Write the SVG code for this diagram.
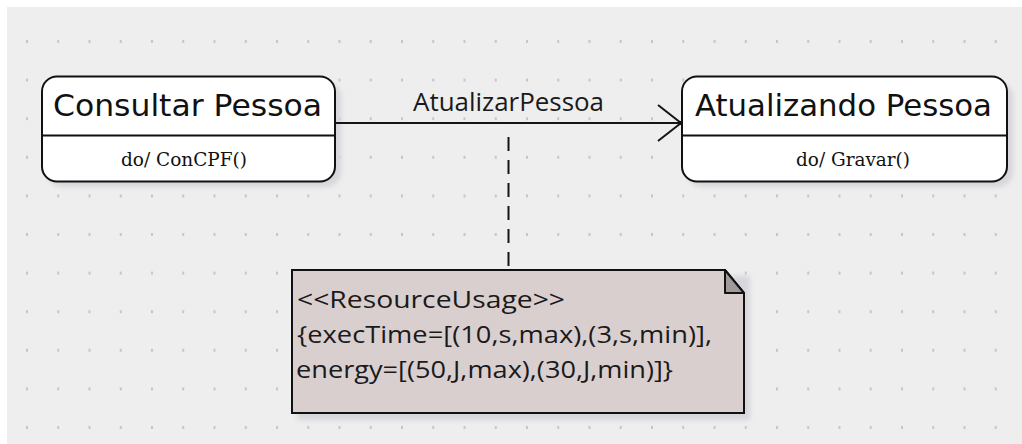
<svg xmlns="http://www.w3.org/2000/svg" width="1022" height="444" viewBox="0 0 1022 444">
  <defs>
    <pattern id="grid" x="26" y="40" width="31.25" height="38.6" patternUnits="userSpaceOnUse">
      <rect x="0" y="0" width="2" height="3" fill="#c6c6c6"/>
    </pattern>
    <filter id="soft" x="-10%" y="-10%" width="130%" height="140%">
      <feGaussianBlur stdDeviation="2.5"/>
    </filter>
    <style>
      .state { fill: #ffffff; stroke: #111111; stroke-width: 2; }
      .shadow { fill: #d6d6dc; filter: url(#soft); }
      .divider { stroke: #111111; stroke-width: 2; }
      .title { font-family: "DejaVu Sans", "Liberation Sans", sans-serif; font-size: 30px; fill: #111111; }
      .action { font-family: "DejaVu Serif", "Liberation Serif", serif; font-size: 19px; fill: #111111; }
      .label { font-family: "Open Sans", "DejaVu Sans", sans-serif; font-size: 26px; fill: #1a1a1a; }
      .notetext { font-family: "Open Sans", "DejaVu Sans", sans-serif; font-size: 23px; fill: #1a1a1a; }
      .edge { stroke: #151515; stroke-width: 2; fill: none; }
    </style>
  </defs>

  <!-- canvas -->
  <rect x="0" y="0" width="1022" height="444" fill="#ffffff"/>
  <rect x="7" y="7" width="1015" height="437" fill="#eeeeee"/>
  <rect x="7" y="7" width="1015" height="437" fill="url(#grid)"/>

  <!-- shadows -->
  <rect class="shadow" x="47" y="82" width="294" height="105" rx="15"/>
  <rect class="shadow" x="687" y="82" width="326" height="105" rx="15"/>
  <rect class="shadow" x="297" y="276" width="453" height="144"/>

  <!-- connectors -->
  <g id="connectors">
    <line class="edge" x1="335" y1="123" x2="681" y2="123"/>
    <polyline class="edge" points="658,105 681,123 658,141"/>
    <rect x="678" y="121" width="4" height="4" fill="#111111"/>
    <line x1="508.5" y1="137" x2="508.5" y2="270" stroke="#151515" stroke-width="2" stroke-dasharray="14 9"/>
    <text class="label" x="413" y="111" textLength="191" lengthAdjust="spacingAndGlyphs">AtualizarPessoa</text>
  </g>

  <!-- state: Consultar Pessoa -->
  <g id="consultar-pessoa">
    <rect class="state" x="42" y="76.5" width="293" height="105" rx="15"/>
    <line class="divider" x1="42" y1="135.5" x2="335" y2="135.5"/>
    <text class="title" x="53" y="116" textLength="269" lengthAdjust="spacingAndGlyphs">Consultar Pessoa</text>
    <text class="action" x="121" y="166" textLength="126" lengthAdjust="spacingAndGlyphs">do/ ConCPF()</text>
  </g>

  <!-- state: Atualizando Pessoa -->
  <g id="atualizando-pessoa">
    <rect class="state" x="682" y="76.5" width="325" height="105" rx="15"/>
    <line class="divider" x1="682" y1="135.5" x2="1007" y2="135.5"/>
    <text class="title" x="695" y="116" textLength="297" lengthAdjust="spacingAndGlyphs">Atualizando Pessoa</text>
    <text class="action" x="796" y="166" textLength="114" lengthAdjust="spacingAndGlyphs">do/ Gravar()</text>
  </g>

  <!-- note: resource usage -->
  <g id="resource-note">
    <path d="M292,270 H725 L744,293 V413 H292 Z" fill="#dacfcf" stroke="#111111" stroke-width="2"/>
    <path d="M725,270 L744,293 H725 Z" fill="#a09a9a" stroke="#111111" stroke-width="2" stroke-linejoin="round"/>
    <text class="notetext" x="297" y="308" textLength="268" lengthAdjust="spacingAndGlyphs">&lt;&lt;ResourceUsage&gt;&gt;</text>
    <text class="notetext" x="297" y="343" textLength="415" lengthAdjust="spacingAndGlyphs">{execTime=[(10,s,max),(3,s,min)],</text>
    <text class="notetext" x="296" y="378" textLength="377" lengthAdjust="spacingAndGlyphs">energy=[(50,J,max),(30,J,min)]}</text>
  </g>
</svg>
